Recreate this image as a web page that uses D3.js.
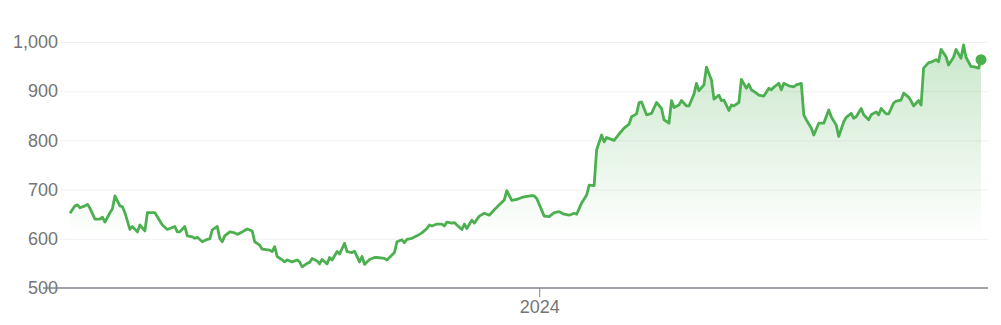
<!DOCTYPE html>
<html>
<head>
<meta charset="utf-8">
<script src="https://cdn.jsdelivr.net/npm/d3@7"></script>
<style>
  body { margin: 0; background: #fff; }
  text { font-family: Arial, "Liberation Sans", sans-serif; }
</style>
</head>
<body>
<script>
// closing prices
const dates = [
  "2023-06-27","2023-06-29","2023-06-30","2023-07-01","2023-07-03","2023-07-04","2023-07-05","2023-07-07","2023-07-09","2023-07-10",
  "2023-07-11","2023-07-13","2023-07-14","2023-07-15","2023-07-17","2023-07-18","2023-07-19","2023-07-21","2023-07-22","2023-07-24",
  "2023-07-25","2023-07-27","2023-07-28","2023-07-31","2023-08-01","2023-08-03","2023-08-05","2023-08-06","2023-08-08","2023-08-09",
  "2023-08-10","2023-08-12","2023-08-13","2023-08-15","2023-08-16","2023-08-17","2023-08-19","2023-08-21","2023-08-22","2023-08-23",
  "2023-08-25","2023-08-26","2023-08-27","2023-08-28","2023-08-30","2023-09-01","2023-09-02","2023-09-04","2023-09-06","2023-09-08",
  "2023-09-09","2023-09-11","2023-09-12","2023-09-15","2023-09-16","2023-09-17","2023-09-18","2023-09-20","2023-09-21","2023-09-22",
  "2023-09-24","2023-09-26","2023-09-27","2023-09-28","2023-09-30","2023-10-01","2023-10-02","2023-10-04","2023-10-05","2023-10-06",
  "2023-10-08","2023-10-09","2023-10-10","2023-10-12","2023-10-13","2023-10-15","2023-10-16","2023-10-18","2023-10-19","2023-10-21",
  "2023-10-22","2023-10-23","2023-10-25","2023-10-27","2023-10-28","2023-10-31","2023-11-01","2023-11-03","2023-11-04","2023-11-05",
  "2023-11-07","2023-11-08","2023-11-09","2023-11-11","2023-11-13","2023-11-15","2023-11-17","2023-11-18","2023-11-19","2023-11-21",
  "2023-11-23","2023-11-24","2023-11-25","2023-11-27","2023-11-28","2023-11-29","2023-12-01","2023-12-02","2023-12-03","2023-12-05",
  "2023-12-06","2023-12-08","2023-12-10","2023-12-12","2023-12-14","2023-12-15","2023-12-16","2023-12-18","2023-12-19","2023-12-21",
  "2023-12-23","2023-12-25","2023-12-27","2023-12-29","2023-12-30","2023-12-31","2024-01-03","2024-01-05","2024-01-07","2024-01-09",
  "2024-01-11","2024-01-13","2024-01-15","2024-01-16","2024-01-18","2024-01-20","2024-01-21","2024-01-23","2024-01-24","2024-01-26",
  "2024-01-27","2024-01-28","2024-01-31","2024-02-02","2024-02-04","2024-02-06","2024-02-07","2024-02-09","2024-02-10","2024-02-11",
  "2024-02-13","2024-02-15","2024-02-17","2024-02-19","2024-02-20","2024-02-22","2024-02-23","2024-02-24","2024-02-26","2024-02-27",
  "2024-02-29","2024-03-01","2024-03-03","2024-03-04","2024-03-05","2024-03-07","2024-03-08","2024-03-10","2024-03-11","2024-03-13",
  "2024-03-14","2024-03-15","2024-03-17","2024-03-18","2024-03-19","2024-03-21","2024-03-22","2024-03-24","2024-03-25","2024-03-26",
  "2024-03-28","2024-03-29","2024-03-31","2024-04-02","2024-04-03","2024-04-04","2024-04-06","2024-04-07","2024-04-08","2024-04-10",
  "2024-04-12","2024-04-13","2024-04-15","2024-04-16","2024-04-17","2024-04-19","2024-04-20","2024-04-22","2024-04-24","2024-04-26",
  "2024-04-27","2024-04-29","2024-04-30","2024-05-02","2024-05-03","2024-05-05","2024-05-06","2024-05-07","2024-05-09","2024-05-10",
  "2024-05-12","2024-05-13","2024-05-15","2024-05-16","2024-05-17","2024-05-19","2024-05-20","2024-05-22","2024-05-23","2024-05-25",
  "2024-05-26","2024-05-28","2024-05-29","2024-05-30","2024-06-01","2024-06-02","2024-06-03","2024-06-05","2024-06-06","2024-06-08",
  "2024-06-09","2024-06-10","2024-06-12","2024-06-13","2024-06-15","2024-06-16","2024-06-18","2024-06-19","2024-06-20","2024-06-22",
  "2024-06-23","2024-06-25","2024-06-26"
];
const prices = [
  652,667,669,663,667,670,662,640,640,644,
  634,653,661,687,667,665,653,619,625,614,
  628,616,653,653,645,628,619,621,625,614,
  614,625,606,604,601,603,594,599,600,618,
  625,601,594,606,614,612,609,614,620,616,
  594,587,579,577,574,584,564,557,553,557,
  553,557,553,543,550,552,560,555,549,558,
  549,562,557,574,569,591,574,572,575,553,
  564,548,558,562,562,560,557,567,572,594,
  598,592,599,601,606,612,621,628,626,630,
  630,626,634,632,633,628,619,630,621,638,
  632,646,652,648,659,664,669,679,698,678,
  680,684,686,688,687,682,646,645,653,655,
  650,648,652,650,673,689,709,708,781,811,
  797,806,800,813,825,833,848,854,877,878,
  852,855,877,865,842,835,881,867,872,881,
  870,870,894,916,901,913,949,923,884,892,
  881,882,861,872,870,877,924,906,914,903,
  896,892,890,906,903,908,916,903,916,911,
  909,913,916,852,842,825,811,835,835,862,
  848,831,808,838,847,855,845,848,865,852,
  842,852,858,852,865,854,854,876,880,882,
  896,888,880,870,881,872,947,958,959,964,
  960,985,970,953,969,985,967,994,969,950,
  950,947,964
];
const yTicks = [500, 600, 700, 800, 900, 1000];
const xTicks = ["2024-01-01"];

const width = 1001, height = 325;
const green = "#4caf50";

const parse = d3.timeParse("%Y-%m-%d");
const data = dates.map((d, i) => ({ date: parse(d), value: prices[i] }));

const svg = d3.select("body").append("svg")
    .attr("width", width)
    .attr("height", height);

const x = d3.scaleTime()
    .domain(d3.extent(data, d => d.date))
    .range([70, 981]);

const y = d3.scaleLinear()
    .domain([500, 1000])
    .range([288, 42]);

// gradient under the line
const grad = svg.append("defs").append("linearGradient")
    .attr("id", "fade")
    .attr("gradientUnits", "userSpaceOnUse")
    .attr("x1", 0).attr("x2", 0)
    .attr("y1", y(1000)).attr("y2", y(600));
grad.append("stop").attr("offset", 0).attr("stop-color", green).attr("stop-opacity", 0.3);
grad.append("stop").attr("offset", 1).attr("stop-color", green).attr("stop-opacity", 0);

// y axis + gridlines
const yAxis = svg.append("g")
    .attr("transform", "translate(60,0)")
    .call(d3.axisLeft(y)
        .tickValues(yTicks)
        .tickFormat(d3.format(","))
        .tickSize(-(988 - 60))
        .tickPadding(2));
yAxis.select(".domain").remove();
yAxis.selectAll(".tick line").attr("stroke", "#f1f1f1").attr("stroke-width", 1);
yAxis.selectAll(".tick")
    .filter(d => d === 500)
    .select("line").remove();
yAxis.selectAll(".tick text")
    .attr("fill", "#757575")
    .attr("font-size", 18)
    .attr("font-family", "Arial, 'Liberation Sans', sans-serif");

// area + line
svg.append("path")
    .datum(data)
    .attr("fill", "url(#fade)")
    .attr("d", d3.area()
        .x(d => x(d.date))
        .y0(y(500))
        .y1(d => y(d.value)));

// baseline
svg.append("line")
    .attr("x1", 43).attr("x2", 988)
    .attr("y1", y(500)).attr("y2", y(500))
    .attr("stroke", "#80868b")
    .attr("stroke-width", 1.5);

// x axis
const xAxis = svg.append("g")
    .attr("transform", `translate(0,${y(500)})`)
    .call(d3.axisBottom(x)
        .tickValues(xTicks.map(parse))
        .tickFormat(d3.timeFormat("%Y"))
        .tickSize(9)
        .tickPadding(3));
xAxis.select(".domain").remove();
xAxis.selectAll(".tick line").attr("stroke", "#80868b");
xAxis.selectAll(".tick text")
    .attr("fill", "#757575")
    .attr("font-size", 18)
    .attr("font-family", "Arial, 'Liberation Sans', sans-serif");

svg.append("path")
    .datum(data)
    .attr("fill", "none")
    .attr("stroke", green)
    .attr("stroke-width", 2.8)
    .attr("stroke-linejoin", "round")
    .attr("d", d3.line()
        .x(d => x(d.date))
        .y(d => y(d.value)));

// last point marker
const last = data[data.length - 1];
svg.append("circle")
    .attr("cx", x(last.date))
    .attr("cy", y(last.value))
    .attr("r", 5.5)
    .attr("fill", green);
</script>
</body>
</html>
